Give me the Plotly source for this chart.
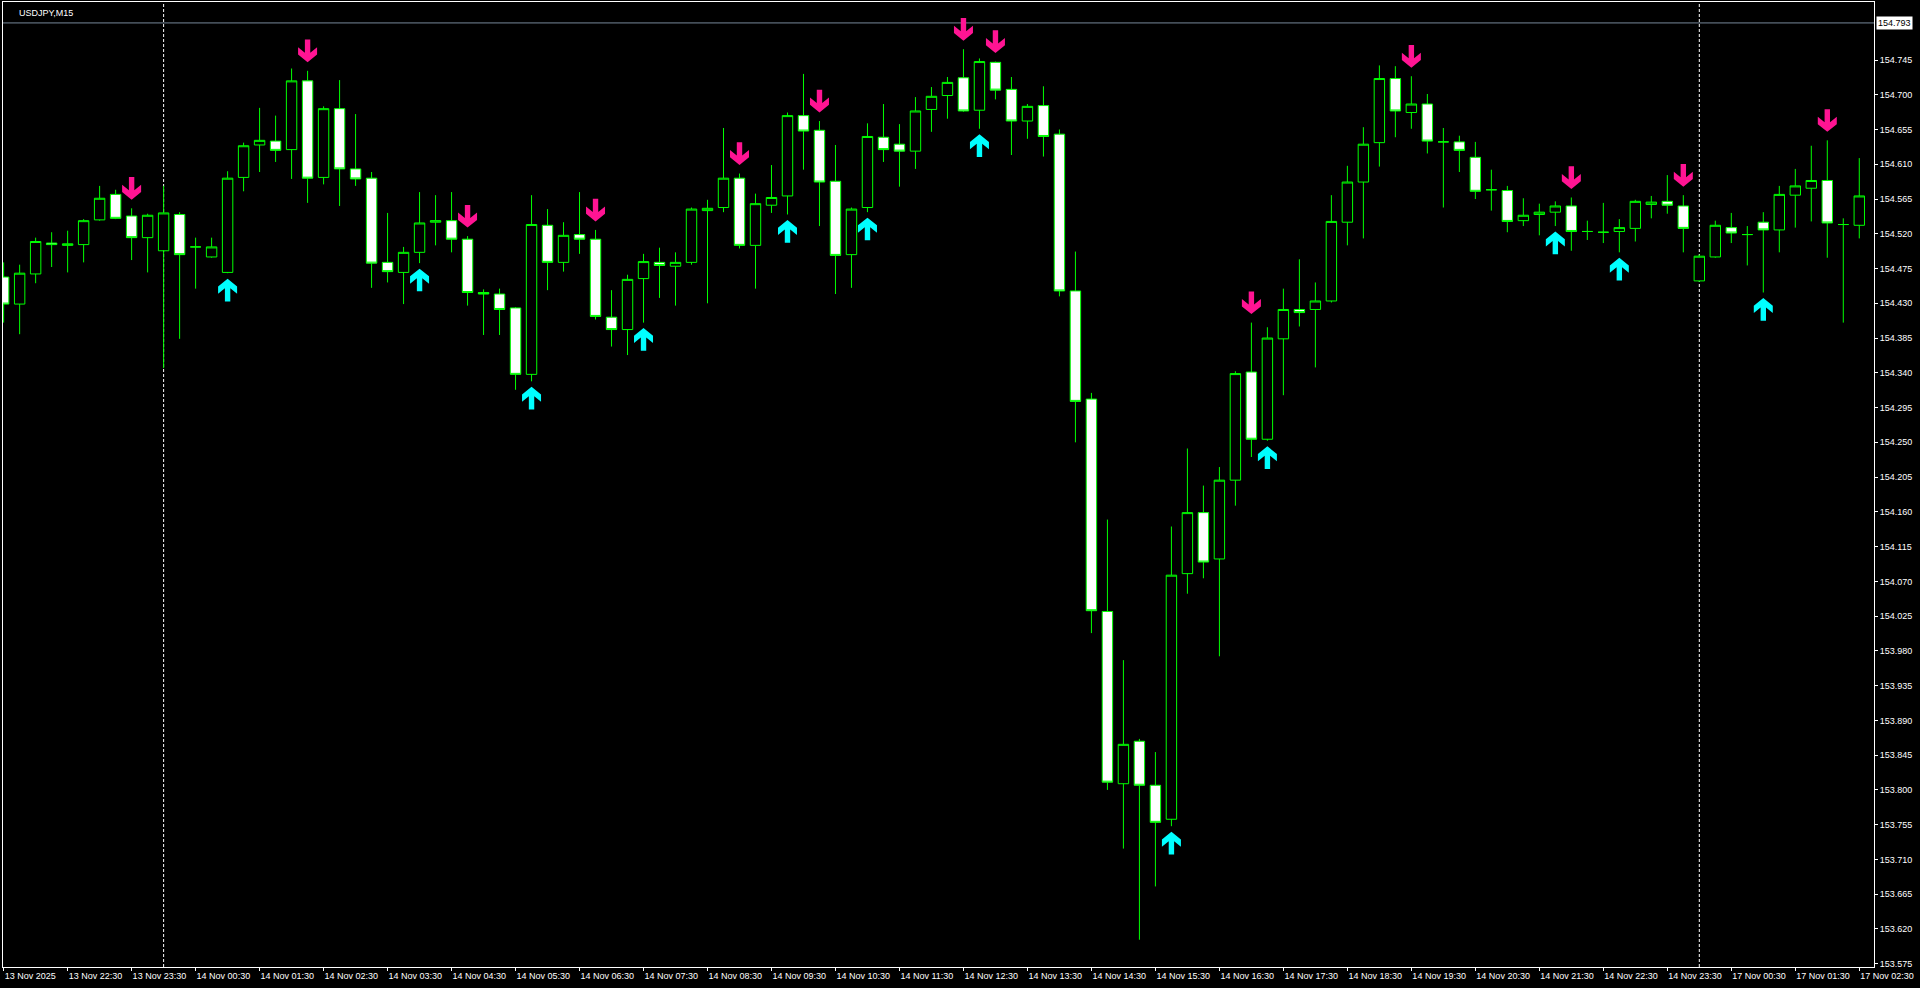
import pandas as pd
import plotly.graph_objects as go

chart_title = "USDJPY,M15"

# 15-minute bars: Thu 13 Nov 21:30 .. Fri 14 Nov 23:45, then Mon 17 Nov 00:00 .. 02:30
bar_times = list(pd.date_range("2025-11-13 21:30", "2025-11-14 23:45", freq="15min")) + \
            list(pd.date_range("2025-11-17 00:00", "2025-11-17 02:30", freq="15min"))

open_ = [
    154.464, 154.429, 154.468, 154.508, 154.505, 154.506, 154.538, 154.571, 154.543, 154.515,
    154.498, 154.545, 154.503, 154.490, 154.470, 154.593, 154.635, 154.640, 154.629, 154.718,
    154.593, 154.682, 154.604, 154.592, 154.483, 154.470, 154.496, 154.535, 154.537, 154.513,
    154.444, 154.442, 154.424, 154.338, 154.531, 154.483, 154.519, 154.513, 154.412, 154.396,
    154.462, 154.483, 154.478, 154.483, 154.550, 154.554, 154.592, 154.505, 154.557, 154.569,
    154.673, 154.654, 154.588, 154.493, 154.554, 154.645, 154.636, 154.627, 154.681, 154.699,
    154.722, 154.680, 154.742, 154.707, 154.666, 154.686, 154.649, 154.446, 154.306, 154.031,
    153.808, 153.863, 153.806, 153.762, 154.080, 154.159, 154.099, 154.201, 154.341, 154.254,
    154.384, 154.422, 154.422, 154.433, 154.535, 154.587, 154.638, 154.721, 154.677, 154.688,
    154.639, 154.639, 154.619, 154.577, 154.576, 154.537, 154.545, 154.548, 154.556, 154.523,
    154.522, 154.523, 154.527, 154.558, 154.562, 154.556, 154.459, 154.490, 154.528, 154.519,
    154.535, 154.525, 154.570, 154.579, 154.589, 154.532, 154.531]

high = [
    154.483, 154.480, 154.515, 154.522, 154.524, 154.539, 154.582, 154.577, 154.553, 154.546,
    154.582, 154.548, 154.515, 154.515, 154.601, 154.638, 154.683, 154.673, 154.734, 154.731,
    154.685, 154.719, 154.675, 154.600, 154.547, 154.503, 154.574, 154.570, 154.574, 154.517,
    154.448, 154.449, 154.425, 154.570, 154.552, 154.535, 154.574, 154.525, 154.447, 154.467,
    154.494, 154.502, 154.496, 154.554, 154.564, 154.657, 154.598, 154.572, 154.609, 154.677,
    154.727, 154.666, 154.635, 154.554, 154.663, 154.688, 154.662, 154.697, 154.710, 154.723,
    154.759, 154.747, 154.743, 154.723, 154.688, 154.711, 154.655, 154.497, 154.314, 154.150,
    153.968, 153.866, 153.849, 154.141, 154.242, 154.194, 154.218, 154.342, 154.405, 154.399,
    154.449, 154.487, 154.457, 154.570, 154.608, 154.658, 154.738, 154.737, 154.724, 154.701,
    154.657, 154.647, 154.639, 154.603, 154.582, 154.566, 154.559, 154.562, 154.567, 154.537,
    154.560, 154.539, 154.564, 154.569, 154.596, 154.570, 154.493, 154.537, 154.547, 154.530,
    154.548, 154.582, 154.604, 154.634, 154.641, 154.540, 154.618]

low = [
    154.405, 154.390, 154.456, 154.477, 154.470, 154.483, 154.537, 154.539, 154.486, 154.470,
    154.346, 154.384, 154.449, 154.489, 154.469, 154.575, 154.600, 154.613, 154.591, 154.560,
    154.584, 154.556, 154.582, 154.450, 154.457, 154.429, 154.482, 154.505, 154.496, 154.427,
    154.389, 154.389, 154.318, 154.329, 154.447, 154.471, 154.494, 154.409, 154.374, 154.363,
    154.405, 154.437, 154.427, 154.480, 154.430, 154.548, 154.501, 154.449, 154.547, 154.545,
    154.603, 154.530, 154.442, 154.450, 154.548, 154.613, 154.581, 154.604, 154.652, 154.669,
    154.678, 154.656, 154.694, 154.622, 154.643, 154.620, 154.439, 154.250, 154.003, 153.800,
    153.724, 153.606, 153.675, 153.753, 154.054, 154.074, 153.973, 154.168, 154.231, 154.252,
    154.311, 154.400, 154.347, 154.431, 154.505, 154.514, 154.607, 154.645, 154.656, 154.624,
    154.554, 154.600, 154.565, 154.550, 154.522, 154.530, 154.518, 154.530, 154.498, 154.512,
    154.508, 154.496, 154.510, 154.540, 154.546, 154.496, 154.458, 154.489, 154.508, 154.479,
    154.444, 154.496, 154.528, 154.536, 154.489, 154.405, 154.514]

close = [
    154.429, 154.469, 154.510, 154.506, 154.507, 154.537, 154.566, 154.540, 154.515, 154.544,
    154.547, 154.493, 154.503, 154.503, 154.592, 154.634, 154.641, 154.628, 154.718, 154.592,
    154.682, 154.604, 154.591, 154.482, 154.471, 154.496, 154.534, 154.537, 154.513, 154.444,
    154.442, 154.422, 154.338, 154.532, 154.483, 154.518, 154.513, 154.413, 154.396, 154.461,
    154.484, 154.479, 154.483, 154.552, 154.553, 154.592, 154.505, 154.559, 154.567, 154.673,
    154.653, 154.587, 154.492, 154.552, 154.646, 154.629, 154.627, 154.679, 154.698, 154.716,
    154.679, 154.743, 154.706, 154.666, 154.685, 154.646, 154.446, 154.303, 154.032, 153.810,
    153.859, 153.806, 153.758, 154.078, 154.159, 154.095, 154.201, 154.339, 154.254, 154.385,
    154.422, 154.418, 154.433, 154.536, 154.587, 154.636, 154.721, 154.679, 154.688, 154.640,
    154.639, 154.628, 154.575, 154.577, 154.536, 154.544, 154.548, 154.556, 154.523, 154.523,
    154.522, 154.528, 154.562, 154.561, 154.557, 154.527, 154.491, 154.531, 154.521, 154.519,
    154.525, 154.571, 154.582, 154.589, 154.534, 154.532, 154.569]

# signal arrows (bar times)
sell_signal_times = ["2025-11-13 23:30", "2025-11-14 02:15", "2025-11-14 04:45", "2025-11-14 06:45",
                     "2025-11-14 09:00", "2025-11-14 10:15", "2025-11-14 12:30", "2025-11-14 13:00",
                     "2025-11-14 17:00", "2025-11-14 19:30", "2025-11-14 22:00", "2025-11-14 23:45",
                     "2025-11-17 02:00"]
buy_signal_times = ["2025-11-14 01:00", "2025-11-14 04:00", "2025-11-14 05:45", "2025-11-14 07:30",
                    "2025-11-14 09:45", "2025-11-14 11:00", "2025-11-14 12:45", "2025-11-14 15:45",
                    "2025-11-14 17:15", "2025-11-14 21:45", "2025-11-14 22:45", "2025-11-17 01:00"]

tick_labels = ["13 Nov 2025", "13 Nov 22:30", "13 Nov 23:30"] + \
    ["14 Nov %02d:30" % h for h in range(24)] + \
    ["17 Nov 00:30", "17 Nov 01:30", "17 Nov 02:30"]

price_ticks = [round(154.745 - 0.045 * i, 3) for i in range(27)]
marked_price = 154.793

# ---------------------------------------------------------------- figure
idx = list(range(len(bar_times)))
time_index = {t.strftime("%Y-%m-%d %H:%M"): i for i, t in enumerate(bar_times)}
tick_pos = [i for i, t in enumerate(bar_times) if t.minute == 30]
separators = [i for i, t in enumerate(bar_times) if t.hour == 0 and t.minute == 0]

LIME = "#00FF00"
fig = go.Figure(go.Candlestick(
    x=idx, open=open_, high=high, low=low, close=close,
    increasing=dict(line=dict(color=LIME, width=1), fillcolor="#000000"),
    decreasing=dict(line=dict(color=LIME, width=1), fillcolor="#FFFFFF"),
    whiskerwidth=0, hoverinfo="skip", showlegend=False))

shapes = []
for k in separators:
    shapes.append(dict(type="line", xref="x", yref="paper", x0=k, x1=k, y0=0, y1=1,
                       line=dict(color="#FFFFFF", width=1, dash="3px,2px"), layer="below"))
shapes.append(dict(type="line", xref="paper", yref="y", x0=0, x1=1, y0=marked_price, y1=marked_price,
                   line=dict(color="#778899", width=1)))

# arrow outline in pixels (tip at origin, pointing down, body going up)
arrow_pts = [(0, 0), (9.5, 7.7), (9.5, 15), (2.7, 9.5), (2.7, 22.7), (-2.7, 22.7),
             (-2.7, 9.5), (-9.5, 15), (-9.5, 7.7)]


def arrow_path(sign, gap):
    pts = [(x, sign * (y + gap)) for x, y in arrow_pts]
    return "M" + " L".join("%.1f,%.1f" % p for p in pts) + " Z"


down_path = arrow_path(1, 8.5)
up_path = arrow_path(-1, 5.5)
for t in sell_signal_times:
    k = time_index[t]
    shapes.append(dict(type="path", xref="x", yref="y", xsizemode="pixel", ysizemode="pixel",
                       xanchor=k, yanchor=high[k], path=down_path,
                       fillcolor="#FF1493", line=dict(width=0)))
for t in buy_signal_times:
    k = time_index[t]
    shapes.append(dict(type="path", xref="x", yref="y", xsizemode="pixel", ysizemode="pixel",
                       xanchor=k, yanchor=low[k], path=up_path,
                       fillcolor="#00FFFF", line=dict(width=0)))

FONT = "Liberation Sans, Arial, sans-serif"
fig.update_layout(
    width=1920, height=988, autosize=False,
    margin=dict(l=3, r=46, t=2, b=21),
    paper_bgcolor="#000000", plot_bgcolor="#000000",
    font=dict(family=FONT, size=9, color="#FFFFFF"),
    showlegend=False, boxgap=0.35, boxgroupgap=0,
    shapes=shapes,
    xaxis=dict(type="linear", range=[-0.04, 116.92], showgrid=False, zeroline=False,
               showline=True, linecolor="#FFFFFF", linewidth=1, mirror=True,
               ticks="outside", ticklen=3, tickcolor="#FFFFFF",
               tickvals=tick_pos, ticktext=tick_labels, ticklabelposition="outside right",
               rangeslider=dict(visible=False), fixedrange=True),
    yaxis=dict(side="right", range=[153.5707, 154.8201], showgrid=False, zeroline=False,
               showline=True, linecolor="#FFFFFF", linewidth=1, mirror=True,
               ticks="outside", ticklen=3, tickcolor="#FFFFFF",
               tickvals=price_ticks, tickformat=".3f", fixedrange=True),
    annotations=[
        dict(text=chart_title, xref="paper", yref="paper", x=0, y=1, xanchor="left", yanchor="top",
             xshift=14, yshift=-4, showarrow=False, font=dict(family=FONT, size=9, color="#FFFFFF")),
        dict(text="%.3f" % marked_price, xref="paper", yref="y", x=1, y=marked_price,
             xanchor="left", yanchor="middle", xshift=2, showarrow=False, bgcolor="#FFFFFF",
             borderpad=1, font=dict(family=FONT, size=9, color="#000000")),
    ],
)

fig.write_html("out.html", config={"displayModeBar": False},
               post_script="document.body.style.margin='0';document.body.style.overflow='hidden';")
